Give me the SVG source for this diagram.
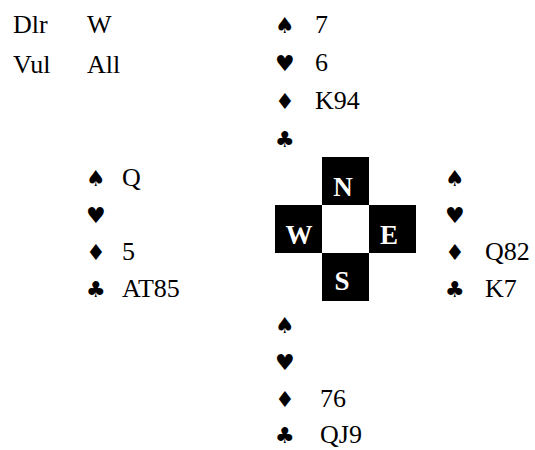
<svg xmlns="http://www.w3.org/2000/svg" width="535" height="450" viewBox="0 0 535 450">
<style>
.t{font-family:"Liberation Serif","Times New Roman",serif;font-size:26px;fill:#000}
.s{font-family:"DejaVu Sans",sans-serif;font-size:22px;fill:#000}
.c{font-family:"Liberation Serif","Times New Roman",serif;font-size:27px;font-weight:bold;fill:#fff;text-anchor:middle}
.b{fill:#000}
</style>
<g id="info">
<text class="t" x="13" y="33">Dlr</text>
<text class="t" x="87" y="33">W</text>
<text class="t" x="13" y="73">Vul</text>
<text class="t" x="87" y="73">All</text>
</g>
<g id="north">
<text class="s" x="275" y="33">♠</text><text class="t" x="315" y="33">7</text>
<text class="s" x="275" y="71">♥</text><text class="t" x="315" y="71">6</text>
<text class="s" x="275" y="109">♦</text><text class="t" x="315" y="109">K94</text>
<text class="s" x="275" y="147">♣</text>
</g>
<g id="west">
<text class="s" x="86" y="186">♠</text><text class="t" x="122" y="186">Q</text>
<text class="s" x="86" y="223">♥</text>
<text class="s" x="86" y="260">♦</text><text class="t" x="122" y="260">5</text>
<text class="s" x="86" y="297">♣</text><text class="t" x="122" y="297">AT85</text>
</g>
<g id="east">
<text class="s" x="445" y="186">♠</text>
<text class="s" x="445" y="223">♥</text>
<text class="s" x="445" y="260">♦</text><text class="t" x="485" y="260">Q82</text>
<text class="s" x="445" y="297">♣</text><text class="t" x="485" y="297">K7</text>
</g>
<g id="south">
<text class="s" x="275" y="333">♠</text>
<text class="s" x="275" y="370">♥</text>
<text class="s" x="275" y="407">♦</text><text class="t" x="320" y="407">76</text>
<text class="s" x="275" y="443">♣</text><text class="t" x="320" y="443">QJ9</text>
</g>
<g id="compass">
<rect class="b" x="322" y="157" width="47" height="48"/>
<rect class="b" x="275" y="205" width="47" height="48"/>
<rect class="b" x="369" y="205" width="47" height="48"/>
<rect class="b" x="322" y="253" width="47" height="48"/>
<text class="c" x="343" y="196">N</text>
<text class="c" x="299" y="244">W</text>
<text class="c" x="389" y="244">E</text>
<text class="c" x="342" y="290">S</text>
</g>
<g id="connectors"/>
</svg>
